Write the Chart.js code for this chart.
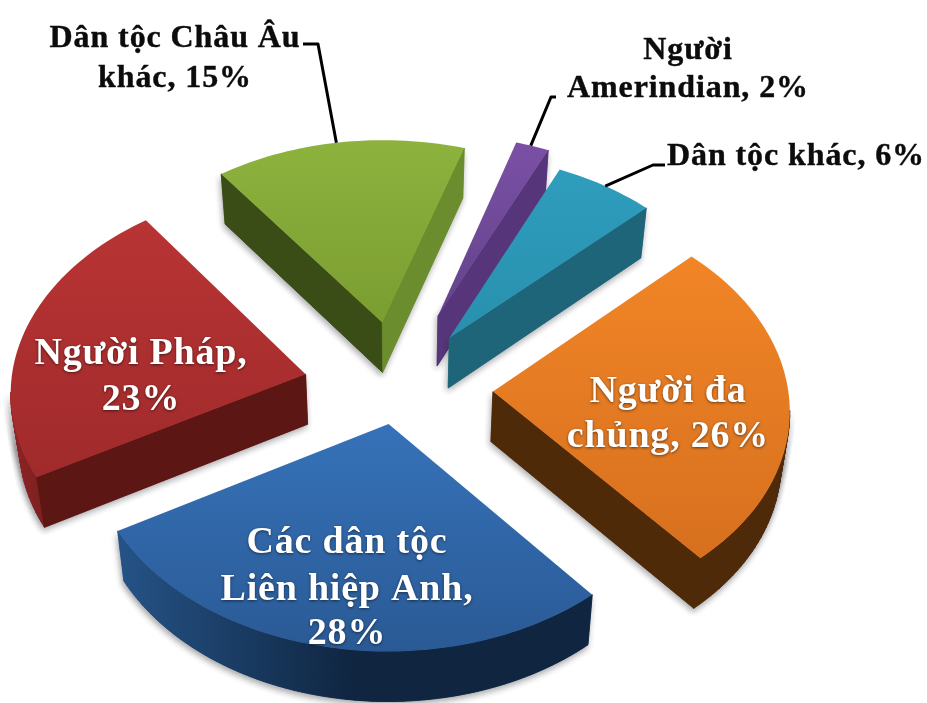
<!DOCTYPE html>
<html>
<head>
<meta charset="utf-8">
<style>html,body{margin:0;padding:0;background:#fff}canvas{display:block}</style>
<script src="https://cdn.jsdelivr.net/npm/chart.js@4/dist/chart.umd.min.js"></script>
</head>
<body>
<canvas id="c" width="927" height="703"></canvas>
<script>
const categories = ['Người Amerindian','Dân tộc khác','Người đa chủng','Các dân tộc Liên hiệp Anh','Người Pháp','Dân tộc Châu Âu khác'];
const values = [2,6,26,28,23,15];
const offsets = [114,90,95,52,95,98];
const topLight = ['#7A50A6','#2F9DBD','#F18526','#3672B9','#B93434','#8DB33E'];
const topDark  = ['#64438A','#2890AD','#D7701F','#2A5A95','#A02A2B','#7B9D31'];
const sideLeft = ['#57357A','#1E6579','#4E2A09','#10294A','#5C1613','#3B4D17'];
const sideRight= ['#57357A','#1E6579','#4E2A09','#10294A','#5C1613','#6C8D2E'];
const rimFrom  = ['#57357A','#1E6579','#4E2A09','#0F2540','#6A1A19','#3B4D17'];
const rimTo    = ['#57357A','#1E6579','#4E2A09','#255387','#902424','#3B4D17'];

const VIEW = {cx:398, cy:388, squash:0.695, dist:13.5, radius:295, depth:50, taper:0.978};

function project(gx, gy, z){
  const k = VIEW.dist / (VIEW.dist - gy / VIEW.radius);
  const t = z ? VIEW.taper : 1;
  return {x: VIEW.cx + gx * k * t, y: VIEW.cy + VIEW.squash * gy * k + (z ? VIEW.depth : 0)};
}
function groundPoint(arc, angle, r){
  const mid = (arc.startAngle + arc.endAngle) / 2;
  const off = arc.options.offset;
  return {x: off * Math.cos(mid) + r * Math.cos(angle), y: off * Math.sin(mid) + r * Math.sin(angle)};
}
function outline(arc){
  const pts = [], n = Math.max(8, Math.round((arc.endAngle - arc.startAngle) * 40));
  for (let i = 0; i <= n; i++){
    const a = arc.startAngle + (arc.endAngle - arc.startAngle) * i / n;
    pts.push(groundPoint(arc, a, VIEW.radius));
  }
  return pts;
}
function quad(ctx, a, b){
  ctx.beginPath();
  ctx.moveTo(a.x, a.y);
  ctx.lineTo(b.x, b.y);
  const bb = {x: VIEW.cx + (b.x - VIEW.cx) * VIEW.taper, y: b.y + VIEW.depth};
  const ab = {x: VIEW.cx + (a.x - VIEW.cx) * VIEW.taper, y: a.y + VIEW.depth};
  ctx.lineTo(bb.x, bb.y);
  ctx.lineTo(ab.x, ab.y);
  ctx.closePath();
  ctx.fill();
  ctx.stroke();
}
function drawSides(ctx, arc, i){
  const apexG = groundPoint(arc, 0, 0);
  const apex = project(apexG.x, apexG.y, 0);
  const rim = outline(arc).map(p => project(p.x, p.y, 0));
  const xs = rim.map(p => p.x);
  const g = ctx.createLinearGradient(Math.max(...xs), 0, Math.min(...xs), 0);
  g.addColorStop(0, rimFrom[i]);
  g.addColorStop(0.5, rimFrom[i]);
  g.addColorStop(1, rimTo[i]);
  ctx.lineWidth = 0.6;
  for (let j = 0; j < rim.length - 1; j++){
    if (rim[j + 1].x < rim[j].x){
      ctx.fillStyle = g; ctx.strokeStyle = g;
      quad(ctx, rim[j], rim[j + 1]);
    }
  }
  if (rim[0].x < apex.x){
    ctx.fillStyle = sideLeft[i]; ctx.strokeStyle = sideLeft[i];
    quad(ctx, apex, rim[0]);
  }
  const last = rim[rim.length - 1];
  if (apex.x < last.x){
    ctx.fillStyle = sideRight[i]; ctx.strokeStyle = sideRight[i];
    quad(ctx, last, apex);
  }
}
function drawTop(ctx, arc, i){
  const apexG = groundPoint(arc, 0, 0);
  const apex = project(apexG.x, apexG.y, 0);
  const rim = outline(arc).map(p => project(p.x, p.y, 0));
  const ys = rim.map(p => p.y).concat(apex.y);
  const g = ctx.createLinearGradient(0, Math.min(...ys), 0, Math.max(...ys));
  g.addColorStop(0, topLight[i]);
  g.addColorStop(1, topDark[i]);
  ctx.fillStyle = g;
  ctx.beginPath();
  ctx.moveTo(apex.x, apex.y);
  rim.forEach(p => ctx.lineTo(p.x, p.y));
  ctx.closePath();
  ctx.fill();
}
function rimPoint(arc, frac){
  const a = arc.startAngle + (arc.endAngle - arc.startAngle) * frac;
  const p = groundPoint(arc, a, VIEW.radius);
  return project(p.x, p.y, 0);
}

const insideLabels = [
  {lines:['Người Pháp,','23%'], x:141, y:[364,410]},
  {lines:['Các dân tộc','Liên hiệp Anh,','28%'], x:347, y:[553,600,644]},
  {lines:['Người đa','chủng, 26%'], x:668, y:[402,447]}
];
const outsideLabels = [
  {lines:['Dân tộc Châu Âu','khác, 15%'], x:175, y:[47,87]},
  {lines:['Người','Amerindian, 2%'], x:688, y:[59,97]},
  {lines:['Dân tộc khác, 6%'], x:796, y:[165]}
];

const pie3d = {
  id:'pie3d',
  beforeDatasetDraw(chart, args){
    const ctx = chart.ctx;
    const arcs = chart.getDatasetMeta(args.index).data;
    const order = arcs.map((a, i) => i).sort((p, q) => {
      const mp = (arcs[p].startAngle + arcs[p].endAngle) / 2, mq = (arcs[q].startAngle + arcs[q].endAngle) / 2;
      return Math.sin(mp) - Math.sin(mq);
    });
    ctx.save();
    order.forEach(i => {
      ctx.save();
      ctx.shadowColor = 'rgba(40,40,50,0.4)';
      ctx.shadowBlur = 6;
      ctx.shadowOffsetX = -1;
      ctx.shadowOffsetY = 3;
      drawSides(ctx, arcs[i], i);
      ctx.restore();
      drawSides(ctx, arcs[i], i);
      drawTop(ctx, arcs[i], i);
    });
    ctx.strokeStyle = '#000';
    ctx.lineWidth = 3;
    ctx.lineJoin = 'round';
    const leaders = [
      [[303,44],[318,44],rimPoint(arcs[5], 0.49)],
      [[556,97],[551,97],rimPoint(arcs[0], 0.45)],
      [[665,165],[653,165],rimPoint(arcs[1], 0.5)]
    ];
    leaders.forEach(l => {
      const end = l[2];
      ctx.beginPath();
      ctx.moveTo(l[0][0], l[0][1]);
      ctx.lineTo(l[1][0], l[1][1]);
      ctx.lineTo(end.x, end.y);
      ctx.stroke();
    });
    ctx.textAlign = 'center';
    ctx.textBaseline = 'alphabetic';
    ctx.font = 'bold 38px "Liberation Serif"';
    ctx.letterSpacing = '0.8px';
    ctx.fillStyle = '#fff';
    ctx.shadowColor = 'rgba(0,0,0,0.55)';
    ctx.shadowBlur = 3;
    ctx.shadowOffsetY = 1;
    insideLabels.forEach(l => l.lines.forEach((t, j) => ctx.fillText(t, l.x, l.y[j])));
    ctx.shadowColor = 'transparent';
    ctx.font = 'bold 32px "Liberation Serif"';
    ctx.letterSpacing = '0.9px';
    ctx.fillStyle = '#0c0c0c';
    ctx.strokeStyle = '#0c0c0c';
    ctx.lineWidth = 0.4;
    outsideLabels.forEach(l => l.lines.forEach((t, j) => {
      ctx.fillText(t, l.x, l.y[j]);
      ctx.strokeText(t, l.x, l.y[j]);
    }));
    ctx.restore();
    return false;
  }
};

new Chart(document.getElementById('c').getContext('2d'), {
  type:'pie',
  data:{labels:categories, datasets:[{data:values, offset:offsets, backgroundColor:topLight, borderWidth:0, hoverOffset:0}]},
  options:{
    responsive:false,
    animation:false,
    rotation:17.5,
    events:[],
    layout:{padding:0},
    plugins:{legend:{display:false}, title:{display:false}, tooltip:{enabled:false}}
  },
  plugins:[pie3d]
});
</script>
</body>
</html>
